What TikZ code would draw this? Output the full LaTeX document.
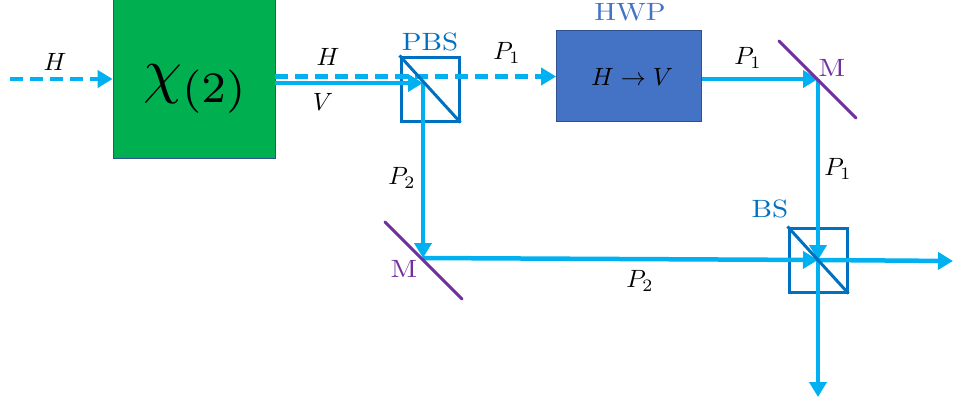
\documentclass[tikz,border=0pt]{standalone}
\usepackage{amsmath,amssymb}
\usepackage{xcolor}
\usetikzlibrary{arrows.meta}
\definecolor{beamblue}{RGB}{0, 176, 240}
\definecolor{cubeblue}{RGB}{0, 112, 192}
\definecolor{crystalgreen}{RGB}{0, 176, 80}
\definecolor{plateblue}{RGB}{68, 114, 196}
\definecolor{plateedge}{RGB}{47, 82, 143}
\definecolor{mirrorpurple}{RGB}{112, 48, 160}

\begin{document}
\begin{tikzpicture}[x=1pt, y=-1pt,
    crystal/.style={rectangle, draw=plateedge, line width=0.8pt, fill=crystalgreen, inner sep=0pt, minimum width=162pt, minimum height=160pt},
    plate/.style={rectangle, draw=plateedge, line width=0.8pt, fill=plateblue, inner sep=0pt, minimum width=145pt, minimum height=91pt},
    cube/.style={rectangle, draw=cubeblue, line width=3pt, inner sep=0pt, minimum width=58pt, minimum height=64pt},
    split/.style={draw=cubeblue, line width=3pt},
    mirror/.style={draw=mirrorpurple, line width=3pt, line cap=round},
    line/.style={draw=beamblue, line width=4.5pt, -{Triangle[length=15pt,width=17pt]}},
    dashline/.style={line, dash pattern=on 13pt off 7pt},
    maths/.style={inner sep=0pt, scale=2.5},
    tag/.style={inner sep=0pt, xscale=2.9, yscale=2.5}]

    \useasboundingbox (0,0) rectangle (953,402);

    % boxes
    \node [crystal] (chi) at (194,78) {};
    \node [inner sep=0pt, scale=6.2] (chilabel) at (196,89) {$\chi_{(2)}$};
    \node [plate] (hwp) at (629,75.5) {};
    \node [maths] (hwplabel) at (632,77) {$H \rightarrow V$};
    \node [cube] (pbs) at (430,89) {};
    \node [cube] (bs) at (818,260) {};

    % beam turning points
    \coordinate (start) at (10,79);
    \coordinate (pbshit) at (423,83);
    \coordinate (pbsdash) at (430,76.5);
    \coordinate (topmirror) at (818,79);
    \coordinate (lowmirror) at (423,258);
    \coordinate (rightend) at (953,261);
    \coordinate (bottomend) at (818,397);

    \draw [dashline] (start) -- (start -| chi.west);
    \draw [dashline] (chi.east |- pbsdash) -- (hwp.west |- pbsdash);
    \draw [line] (chi.east |- pbshit) -- (pbshit);
    \draw [line] (pbshit) -- (lowmirror);
    \draw [line] (lowmirror) -- (bs.center);
    \draw [line] (hwp.east |- topmirror) -- (topmirror);
    \draw [line] (topmirror) -- (bs.center);
    \draw [line] (bs.center) -- (rightend);
    \draw [line] (bs.center) -- (bottomend);

    \draw [split] (pbs.north west) -- (pbs.south east);
    \draw [split] (bs.north west) -- (bs.south east);

    % mirrors
    \coordinate (topa) at (779,41);
    \coordinate (topb) at (856,118);
    \coordinate (lowa) at (385,222);
    \coordinate (lowb) at (462,299);
    \draw [mirror] (topa) -- (topb);
    \draw [mirror] (lowa) -- (lowb);

    % labels
    \node [tag, text=cubeblue] (pbstag) at (430,42) {PBS};
    \node [tag, text=plateblue] (hwptag) at (630,12) {HWP};
    \node [tag, text=cubeblue] (bstag) at (770,209) {BS};
    \node [tag, text=mirrorpurple] (topmtag) at (832,68) {M};
    \node [tag, text=mirrorpurple] (lowmtag) at (404,269) {M};
    \node [maths] (hin) at (55,62) {$H$};
    \node [maths] (hout) at (328,57) {$H$};
    \node [maths] (vout) at (323,102) {$V$};
    \node [maths] (ponedash) at (507,53) {$P_1$};
    \node [maths] (ponetop) at (748,58) {$P_1$};
    \node [maths] (poneside) at (838,169) {$P_1$};
    \node [maths] (ptwoside) at (402,178) {$P_2$};
    \node [maths] (ptwolow) at (640,281) {$P_2$};
\end{tikzpicture}
\end{document}
